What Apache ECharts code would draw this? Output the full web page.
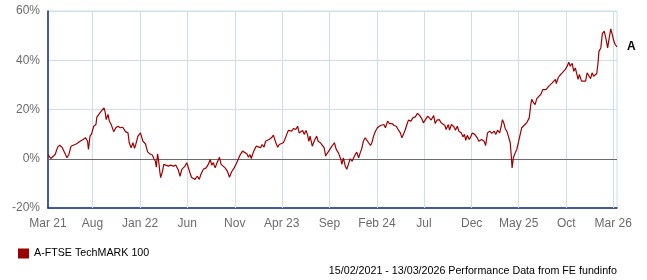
<!DOCTYPE html>
<html>
<head>
<meta charset="utf-8">
<script src="https://cdn.jsdelivr.net/npm/echarts@6/dist/echarts.min.js"></script>
<style>
html,body{margin:0;padding:0;background:#fff;}
#chart{width:647px;height:280px;}
</style>
</head>
<body>
<div id="chart"></div>
<script>
const seriesName = 'A-FTSE TechMARK 100';
const footerText = '15/02/2021 - 13/03/2026 Performance Data from FE fundinfo';
const axisStart = '2021-03-11';
const axisEnd = '2026-03-13';
const tickDates = ['2021-03-11','2021-08-01','2022-01-01','2022-06-01','2022-11-01','2023-04-01','2023-09-01','2024-02-01','2024-07-01','2024-12-01','2025-05-01','2025-10-01','2026-03-01'];
const tickLabels = ['Mar 21','Aug','Jan 22','Jun','Nov','Apr 23','Sep','Feb 24','Jul','Dec','May 25','Oct','Mar 26'];
const yTicks = [-20, 0, 20, 40, 60];

const dates = [
'2021-03-11','2021-03-20','2021-03-24','2021-04-03','2021-04-11','2021-04-18','2021-04-26','2021-05-02','2021-05-11','2021-05-17',
'2021-05-24','2021-05-28','2021-06-11','2021-06-22','2021-07-02','2021-07-10','2021-07-16','2021-07-19','2021-07-24','2021-07-29',
'2021-08-05','2021-08-12','2021-08-15','2021-08-23','2021-08-31','2021-09-07','2021-09-11','2021-09-14','2021-09-20','2021-09-24',
'2021-09-30','2021-10-08','2021-10-15','2021-10-22','2021-10-29','2021-11-06','2021-11-15','2021-11-23','2021-11-27','2021-12-03',
'2021-12-09','2021-12-14','2021-12-18','2021-12-25','2022-01-02','2022-01-07','2022-01-10','2022-01-18','2022-01-23','2022-01-25',
'2022-02-01','2022-02-09','2022-02-14','2022-02-19','2022-02-22','2022-02-26','2022-03-01','2022-03-05','2022-03-08','2022-03-14',
'2022-03-18','2022-03-24','2022-04-02','2022-04-09','2022-04-18','2022-04-26','2022-05-04','2022-05-09','2022-05-15','2022-05-20',
'2022-05-25','2022-05-31','2022-06-05','2022-06-10','2022-06-15','2022-06-20','2022-06-26','2022-07-04','2022-07-10','2022-07-15',
'2022-07-23','2022-08-01','2022-08-08','2022-08-14','2022-08-19','2022-08-24','2022-08-30','2022-09-05','2022-09-13','2022-09-18',
'2022-09-24','2022-10-01','2022-10-08','2022-10-15','2022-10-22','2022-10-30','2022-11-06','2022-11-13','2022-11-19','2022-11-26',
'2022-12-02','2022-12-10','2022-12-15','2022-12-20','2022-12-24','2023-01-01','2023-01-09','2023-01-15','2023-01-23','2023-01-28',
'2023-02-03','2023-02-08','2023-02-13','2023-02-19','2023-02-27','2023-03-05','2023-03-10','2023-03-13','2023-03-19','2023-03-24',
'2023-03-29','2023-04-06','2023-04-11','2023-04-17','2023-04-22','2023-04-27','2023-05-03','2023-05-09','2023-05-16','2023-05-22',
'2023-05-27','2023-06-02','2023-06-07','2023-06-12','2023-06-18','2023-06-23','2023-06-27','2023-07-01','2023-07-08','2023-07-14',
'2023-07-22','2023-07-27','2023-08-03','2023-08-09','2023-08-15','2023-08-20','2023-08-24','2023-09-01','2023-09-07','2023-09-12',
'2023-09-17','2023-09-23','2023-09-30','2023-10-08','2023-10-11','2023-10-16','2023-10-22','2023-10-27','2023-11-02','2023-11-07',
'2023-11-13','2023-11-18','2023-11-23','2023-11-28','2023-12-04','2023-12-09','2023-12-14','2023-12-19','2023-12-25','2023-12-30',
'2024-01-05','2024-01-11','2024-01-16','2024-01-21','2024-01-27','2024-02-02','2024-02-07','2024-02-12','2024-02-18','2024-02-23',
'2024-02-28','2024-03-06','2024-03-12','2024-03-20','2024-03-27','2024-04-03','2024-04-10','2024-04-16','2024-04-21','2024-04-26',
'2024-05-02','2024-05-07','2024-05-12','2024-05-20','2024-05-26','2024-06-03','2024-06-10','2024-06-17','2024-06-24','2024-06-29',
'2024-07-05','2024-07-13','2024-07-18','2024-07-24','2024-08-01','2024-08-06','2024-08-12','2024-08-19','2024-08-25','2024-08-30',
'2024-09-06','2024-09-10','2024-09-17','2024-09-21','2024-09-27','2024-10-05','2024-10-10','2024-10-16','2024-10-21','2024-10-29',
'2024-11-03','2024-11-08','2024-11-12','2024-11-17','2024-11-23','2024-11-28','2024-12-03','2024-12-11','2024-12-19','2024-12-24',
'2025-01-02','2025-01-10','2025-01-15','2025-01-21','2025-01-28','2025-02-04','2025-02-11','2025-02-17','2025-02-22','2025-03-01',
'2025-03-06','2025-03-10','2025-03-15','2025-03-19','2025-03-24','2025-03-29','2025-04-04','2025-04-07','2025-04-10','2025-04-14',
'2025-04-20','2025-04-25','2025-04-30','2025-05-06','2025-05-11','2025-05-18','2025-05-27','2025-06-04','2025-06-09','2025-06-12',
'2025-06-17','2025-06-23','2025-06-28','2025-07-04','2025-07-11','2025-07-18','2025-07-22','2025-07-28','2025-08-06','2025-08-11',
'2025-08-17','2025-08-22','2025-08-27','2025-08-30','2025-09-05','2025-09-10','2025-09-18','2025-09-23','2025-09-28','2025-10-04',
'2025-10-09','2025-10-14','2025-10-20','2025-10-25','2025-10-30','2025-11-08','2025-11-12','2025-11-19','2025-11-25','2025-12-02',
'2025-12-07','2025-12-12','2025-12-18','2025-12-23','2025-12-28','2026-01-07','2026-01-11','2026-01-14','2026-01-20','2026-01-25',
'2026-01-31','2026-02-05','2026-02-11','2026-02-16','2026-02-21','2026-02-26','2026-03-02','2026-03-07','2026-03-13'
];
const values = [
1.7,0.1,-0.3,1.7,4.7,5.5,4.5,4.7,0.4,1.7,
5.1,5.5,6.1,7.1,7.8,8.5,7.1,3.8,9.2,10.1,
13.2,13.9,16.9,18.3,19.6,20.7,18.7,15.9,18.0,15.3,
13.9,11.0,12.6,13.2,12.6,12.8,11.0,10.5,6.5,4.5,
6.5,4.2,5.8,9.2,10.5,9.9,7.1,6.1,5.8,2.8,
2.0,1.5,0.1,-1.0,-3.4,2.0,-0.3,-5.0,-7.7,-5.0,
-2.3,-2.0,-3.0,-2.6,-3.0,-2.6,-4.7,-7.1,-4.3,-5.0,
-3.0,-1.6,-2.3,-5.7,-7.5,-6.7,-8.4,-7.1,-8.4,-6.4,
-4.3,-3.7,-2.3,-0.3,-2.6,-1.6,-3.7,-1.6,0.6,-2.3,
-3.0,-3.7,-5.0,-7.5,-5.3,-3.7,-2.0,0.1,1.7,3.1,
2.4,2.0,0.6,1.7,0.1,3.1,5.1,5.5,4.5,5.8,
4.7,7.1,6.5,7.8,8.5,9.6,9.9,6.5,4.7,5.8,
5.1,6.5,7.8,9.9,11.5,11.9,11.2,12.3,11.9,13.2,
10.5,10.5,11.5,9.9,11.5,9.6,7.1,9.2,5.1,7.1,
9.2,7.1,6.5,5.5,4.5,1.1,2.0,3.5,4.7,5.1,
6.5,3.8,2.4,-0.3,-2.3,0.4,-3.0,-4.3,-1.9,0.0,
-1.0,0.4,1.7,2.7,0.4,2.4,4.1,7.1,8.5,8.1,
6.5,5.4,6.7,9.2,11.2,12.6,11.9,13.5,13.2,13.9,
12.6,15.3,14.3,14.3,13.5,13.2,11.6,10.5,8.5,9.9,
11.9,13.9,15.7,15.3,16.6,17.0,18.4,17.6,16.2,14.6,
15.3,17.3,18.0,15.7,17.6,14.3,15.7,15.9,14.6,15.3,
13.5,11.9,13.9,11.6,13.9,13.0,11.6,13.2,11.2,10.5,
8.9,9.9,7.5,9.5,7.8,8.9,10.5,9.9,8.5,7.1,
7.8,7.1,5.4,10.5,11.2,10.3,11.2,9.9,11.6,10.5,
13.2,15.9,14.3,12.2,11.2,9.2,6.5,1.7,-3.7,0.4,
2.4,3.8,6.5,9.9,12.6,13.5,14.6,16.6,22.0,24.1,
23.0,22.0,24.3,25.2,26.1,28.1,28.8,28.1,29.5,28.8,
30.8,31.5,32.2,30.5,32.9,33.8,34.9,34.6,36.3,37.6,
39.2,37.6,38.7,35.5,36.9,32.2,34.2,31.5,32.2,31.5,
34.9,33.8,32.5,34.9,33.5,34.6,38.9,43.6,45.0,50.8,
51.8,49.1,45.0,49.1,52.7,50.4,48.1,46.4,45.4
];

function ts(s) { const p = s.split('-').map(Number); return Date.UTC(p[0], p[1] - 1, p[2]); }
const tickTs = tickDates.map(ts);
const seriesData = dates.map((d, i) => [ts(d), values[i]]);

const FONT = '"Liberation Sans", Arial, sans-serif';
const GRID_COLOR = '#cfdfea';
const AXIS_COLOR = '#0c2a84';

const vGrid = tickTs.filter(t => t > ts(axisStart)).map(t => ({ xAxis: t, lineStyle: { color: GRID_COLOR, width: 1, type: 'solid' } }));
vGrid.push({ yAxis: 0, lineStyle: { color: '#6b6b6b', width: 1, type: 'solid' } });

const chart = echarts.init(document.getElementById('chart'), null, { renderer: 'canvas' });
chart.setOption({
  animation: false,
  backgroundColor: '#ffffff',
  grid: { left: 48, right: 30, top: 11, bottom: 72, show: true, borderColor: GRID_COLOR, borderWidth: 1 },
  legend: {
    data: [seriesName], left: 13, top: 243, icon: 'rect', itemWidth: 11, itemHeight: 10, itemGap: 10,
    textStyle: { fontFamily: FONT, fontSize: 10.7, color: '#000' }
  },
  graphic: [{
    type: 'text', right: 30, top: 266,
    style: { text: footerText, fontFamily: FONT, fontSize: 10.7, fill: '#000' }
  }],
  xAxis: {
    type: 'value', min: ts(axisStart), max: ts(axisEnd), scale: true,
    axisLine: { show: true, onZero: false, lineStyle: { color: AXIS_COLOR, width: 1.5 } },
    axisTick: { show: false },
    splitLine: { show: false },
    axisLabel: {
      customValues: tickTs, color: '#6b6b6b', fontFamily: FONT, fontSize: 12, margin: 10,
      showMinLabel: true, showMaxLabel: true, hideOverlap: false,
      formatter: function (v) { const i = tickTs.indexOf(v); return i >= 0 ? tickLabels[i] : ''; }
    }
  },
  yAxis: {
    type: 'value', min: yTicks[0], max: yTicks[yTicks.length - 1], interval: 20,
    axisLine: { show: true, lineStyle: { color: AXIS_COLOR, width: 1.5 } },
    axisTick: { show: false },
    splitLine: { show: true, lineStyle: { color: GRID_COLOR, width: 1 } },
    axisLabel: { color: '#6b6b6b', fontFamily: FONT, fontSize: 12, margin: 8, formatter: '{value}%' }
  },
  series: [{
    name: seriesName, type: 'line', data: seriesData, showSymbol: false, symbol: 'none',
    itemStyle: { color: '#990000' },
    lineStyle: { color: '#a00000', width: 1.2 },
    z: 5,
    endLabel: { show: true, formatter: 'A', fontFamily: FONT, fontWeight: 'bold', fontSize: 12, color: '#000', distance: 10 },
    markLine: { silent: true, symbol: 'none', label: { show: false }, data: vGrid, z: 1 }
  }]
});
</script>
</body>
</html>
